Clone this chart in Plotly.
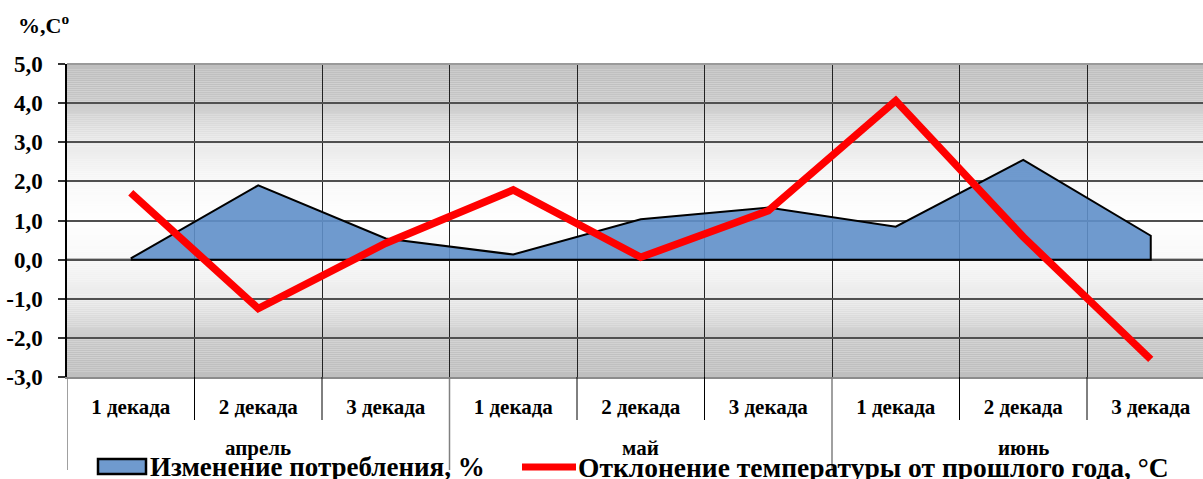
import numpy as np
import plotly.graph_objects as go

# ---- data ----
decades = ["1 декада", "2 декада", "3 декада"] * 3
months = ["апрель", "май", "июнь"]
consumption = [0.03, 1.90, 0.54, 0.13, 1.03, 1.33, 0.84, 2.55, 0.61]
temperature = [1.71, -1.25, 0.42, 1.78, 0.06, 1.25, 4.06, 0.58, -2.55]
y_ticks = [-3, -2, -1, 0, 1, 2, 3, 4, 5]
y_ticktext = ["-3,0", "-2,0", "-1,0", "0,0", "1,0", "2,0", "3,0", "4,0", "5,0"]
name_cons = "Изменение потребления, %"
name_temp = "Отклонение температуры от прошлого года, °C"
y_title = "%,C<sup>o</sup>"

FONT = "'Liberation Serif', 'Times New Roman', 'DejaVu Serif', serif"
W, H = 1203, 479
L_, T_, B_ = 67, 64, 102
PW = W - L_
PH = H - T_ - B_
n = len(consumption)
xs = list(range(n))
AREA_FILL = "rgba(95,143,201,0.9)"
RED = "#FF0000"

def py(pix):
    """pixel row -> paper y"""
    return (H - B_ - pix) / PH

def px(pix):
    """pixel column -> paper x"""
    return (pix - L_) / PW

fig = go.Figure()

# area as closed polygon (outline includes the right edge)
fig.add_trace(go.Scatter(
    x=xs + [xs[-1], xs[0]],
    y=consumption + [0, 0],
    mode="lines", fill="toself",
    fillcolor=AREA_FILL,
    line=dict(color="black", width=2),
    name=name_cons, hoverinfo="skip", showlegend=False,
))
fig.add_trace(go.Scatter(
    x=xs, y=temperature, mode="lines",
    line=dict(color=RED, width=7.5),
    name=name_temp, showlegend=False,
))

shapes = []
# vertical gradient background (gray at edges, white at centre)
ymin, ymax = -3.0, 5.0
centre = 1.0
edges = np.linspace(ymin, ymax, 161)
for a, b in zip(edges[:-1], edges[1:]):
    d = abs((a + b) / 2 - centre)
    v = int(round(np.interp(d, [0, 1, 2, 3, 3.4, 4], [255, 248, 233, 202, 193, 191])))
    shapes.append(dict(type="rect", xref="paper", yref="y", x0=0, x1=1, y0=a, y1=b,
                       fillcolor=f"rgb({v},{v},{v})", line=dict(width=0), layer="below"))

# separators below the axis
for i in range(n + 1):
    xb = i - 0.5
    if i % 3 == 0:
        shapes.append(dict(type="line", xref="x", yref="paper", x0=xb, x1=xb,
                           y0=0, y1=py(470), line=dict(color="#808080", width=1.5)))
    else:
        shapes.append(dict(type="line", xref="x", yref="paper", x0=xb, x1=xb,
                           y0=0, y1=py(420), line=dict(color="black", width=1)))
# zero line
shapes.append(dict(type="line", xref="paper", yref="y", x0=0, x1=1, y0=0, y1=0,
                   line=dict(color="black", width=2), layer="below"))
# top border
shapes.append(dict(type="line", xref="paper", yref="paper", x0=0, x1=1, y0=1, y1=1,
                   line=dict(color="#9a9a9a", width=2)))

# legend (drawn manually to match the original symbol shapes)
shapes.append(dict(type="rect", xref="paper", yref="paper", x0=px(98), x1=px(146),
                   y0=py(474), y1=py(459), fillcolor=AREA_FILL,
                   line=dict(color="black", width=2.5)))
shapes.append(dict(type="line", xref="paper", yref="paper", x0=px(522), x1=px(576),
                   y0=py(467), y1=py(467), line=dict(color=RED, width=7)))

annotations = []
for k, m in enumerate(months):
    annotations.append(dict(x=3 * k + 1, y=py(448), xref="x", yref="paper",
                            text=m, showarrow=False, xanchor="center", yanchor="middle",
                            font=dict(family=FONT, size=21, color="black", weight="bold")))
annotations.append(dict(x=px(16), y=py(24), xref="paper", yref="paper",
                        text=y_title, showarrow=False, xanchor="left", yanchor="middle",
                        font=dict(family=FONT, size=22, color="black", weight="bold")))
annotations.append(dict(x=px(148), y=py(467), xref="paper", yref="paper",
                        text=name_cons, showarrow=False, xanchor="left", yanchor="middle",
                        font=dict(family=FONT, size=27, color="black", weight="bold")))
annotations.append(dict(x=px(576), y=py(467), xref="paper", yref="paper",
                        text=name_temp, showarrow=False, xanchor="left", yanchor="middle",
                        font=dict(family=FONT, size=27.5, color="black", weight="bold")))

fig.update_layout(
    width=W, height=H,
    margin=dict(l=L_, r=0, t=T_, b=B_, autoexpand=False),
    paper_bgcolor="white", plot_bgcolor="white",
    shapes=shapes, annotations=annotations,
    showlegend=False,
    xaxis=dict(range=[-0.5, -0.5 + PW / 127.5], tickmode="array", tickvals=xs,
               ticktext=decades, automargin=False,
               tickfont=dict(family=FONT, size=21, color="black", weight="bold"),
               showgrid=False, ticks="", ticklabelstandoff=10,
               showline=True, linecolor="#8c8c8c", linewidth=2,
               minor=dict(tickmode="array", tickvals=[i - 0.5 for i in range(n + 1)],
                          showgrid=True, gridcolor="#222222", gridwidth=1, ticks=""),
               zeroline=False, fixedrange=True),
    yaxis=dict(range=[ymin, ymax], tickmode="array", tickvals=y_ticks,
               ticktext=y_ticktext, automargin=False,
               tickfont=dict(family=FONT, size=23, color="black", weight="bold"),
               showgrid=True, gridcolor="#505050", gridwidth=1.5,
               ticks="outside", ticklen=7, tickcolor="#333333", tickwidth=1.5,
               ticklabelstandoff=11,
               showline=True, linecolor="black", linewidth=1.5, zeroline=False,
               fixedrange=True),
)

fig.write_html("out.html", config={"displayModeBar": False},
               post_script="document.body.style.margin='0';document.body.style.overflow='hidden';")
